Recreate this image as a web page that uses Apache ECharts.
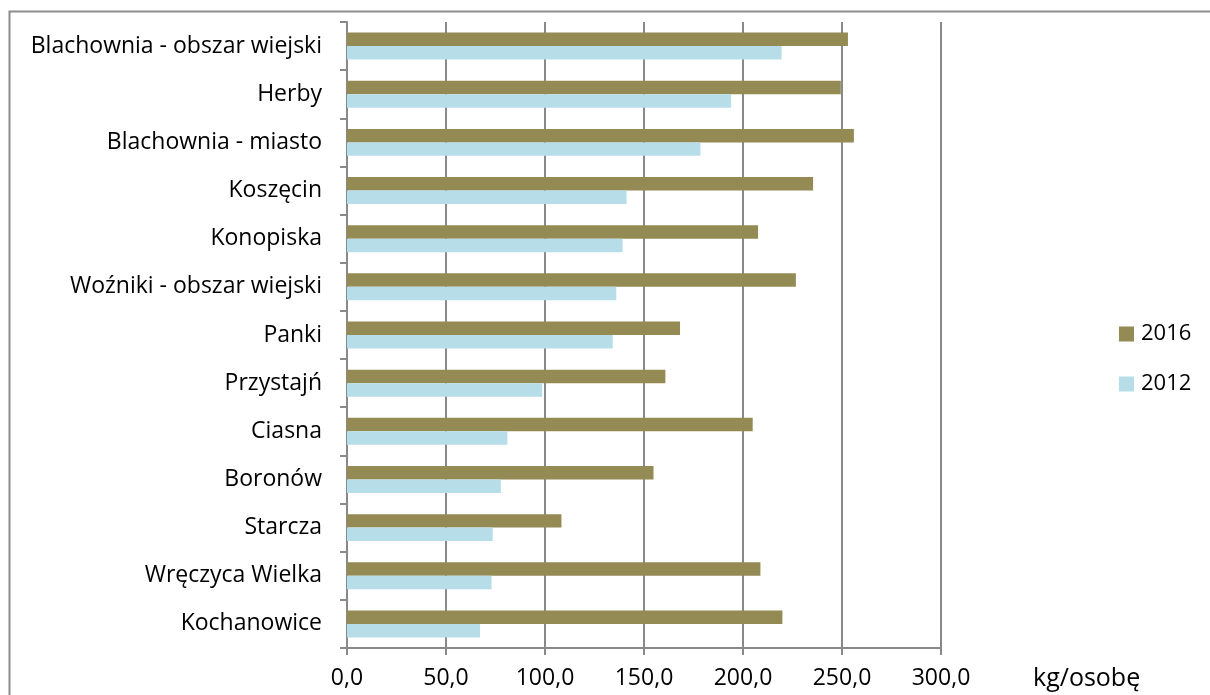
<!DOCTYPE html>
<html>
<head>
<meta charset="utf-8">
<script src="https://cdn.jsdelivr.net/npm/echarts@6/dist/echarts.min.js"></script>
<style>
  html, body { margin: 0; padding: 0; background: #fff; }
  #chart { width: 1210px; height: 695px; }
</style>
</head>
<body>
<div id="chart"></div>
<script>
// gminy, od góry do dołu
const categories = [
  'Blachownia - obszar wiejski',
  'Herby',
  'Blachownia - miasto',
  'Koszęcin',
  'Konopiska',
  'Woźniki - obszar wiejski',
  'Panki',
  'Przystajń',
  'Ciasna',
  'Boronów',
  'Starcza',
  'Wręczyca Wielka',
  'Kochanowice'
]

const values2016 = [253, 249.4, 256, 235.4, 207.6, 226.7, 168.2, 160.8, 204.9, 154.8, 108.3, 208.8, 219.9]
const values2012 = [219.5, 194, 178.5, 141.2, 139.2, 136, 134.2, 98.6, 81, 77.7, 73.6, 73, 67.2]

const xTicks = [0, 50, 100, 150, 200, 250, 300]

const fontFamily = '"Open Sans", "Noto Sans", sans-serif'
const gridColor = '#898989'

const chart = echarts.init(document.getElementById('chart'))

const option = {
  animation: false,
  backgroundColor: '#fff',
  textStyle: { fontFamily: fontFamily, color: '#000' },
  graphic: [
    {
      type: 'polyline',
      shape: { points: [[9.5, 700], [9.5, 11.5], [1215, 11.5]] },
      style: { stroke: '#8c8c8c', lineWidth: 2, fill: null },
      silent: true
    }
  ],
  legend: {
    orient: 'vertical',
    left: 1119,
    top: 323,
    padding: 0,
    itemWidth: 15,
    itemHeight: 15,
    itemGap: 28,
    icon: 'rect',
    textStyle: { fontSize: 22, lineHeight: 22, color: '#000', fontFamily: fontFamily, padding: [0, 0, 0, 2] },
    data: ['2016', '2012']
  },
  grid: {
    left: 347,
    right: 269,
    top: 22,
    bottom: 47
  },
  xAxis: {
    type: 'value',
    min: xTicks[0],
    max: xTicks[xTicks.length - 1],
    interval: 50,
    name: 'kg/osobę',
    nameLocation: 'end',
    nameGap: 92,
    nameTextStyle: {
      fontSize: 25,
      lineHeight: 25,
      color: '#000',
      align: 'left',
      verticalAlign: 'top',
      padding: [18, 0, 0, 0]
    },
    axisLine: { show: true, lineStyle: { color: gridColor, width: 2 } },
    axisTick: { show: true, length: 7, lineStyle: { color: gridColor, width: 2 } },
    axisLabel: {
      fontSize: 23,
      color: '#000',
      margin: 19,
      formatter: (v) => v.toFixed(1).replace('.', ',')
    },
    splitLine: { show: true, lineStyle: { color: gridColor, width: 2 } }
  },
  yAxis: {
    type: 'category',
    inverse: true,
    data: categories,
    axisLine: { show: true, lineStyle: { color: gridColor, width: 2 } },
    axisTick: { show: true, length: 7, lineStyle: { color: gridColor, width: 2 } },
    axisLabel: { fontSize: 23, color: '#000', margin: 25 },
    splitLine: { show: false }
  },
  series: [
    {
      name: '2016',
      type: 'bar',
      data: values2016,
      barGap: '0%',
      barCategoryGap: '44%',
      itemStyle: { color: '#948a54' }
    },
    {
      name: '2012',
      type: 'bar',
      data: values2012,
      barGap: '0%',
      barCategoryGap: '44%',
      itemStyle: { color: '#b7dee8' }
    }
  ]
}

chart.setOption(option)
</script>
</body>
</html>
